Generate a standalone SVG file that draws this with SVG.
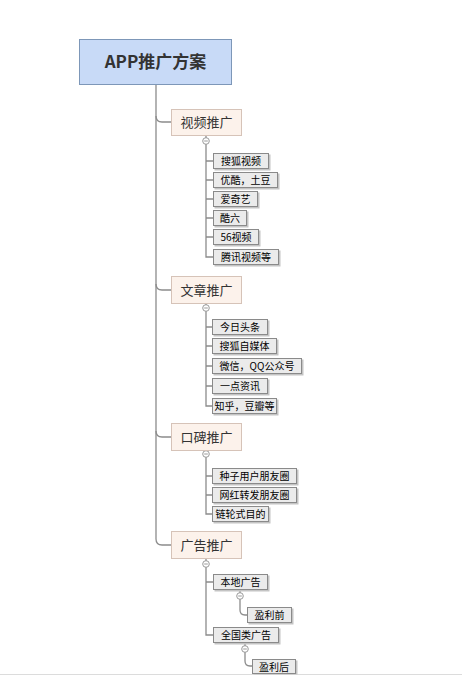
<svg xmlns="http://www.w3.org/2000/svg" width="462" height="676" viewBox="0 0 462 676">
<defs>
<style>
text{font-family:"Noto Sans CJK SC","Liberation Sans",sans-serif;}
.root{fill:#c8daf7;stroke:#7d97b8;stroke-width:1}
.rt{font-size:17px;font-weight:bold;fill:#333;text-anchor:middle}
.main{fill:#fcf2eb;stroke:#d6c3b8;stroke-width:1}
.mt{font-size:13px;fill:#333;text-anchor:middle}
.leaf{fill:#ebebeb;stroke:#8a8a8a;stroke-width:1}
.sh{fill:#c4c4c4}
.lt{font-size:10px;fill:#000;text-anchor:middle}
.ln{fill:none;stroke:#8c8c8c;stroke-width:1.3}
.cc{fill:#fff;stroke:#9a9a9a;stroke-width:1}
.cm{stroke:#9a9a9a;stroke-width:1}
</style>
<g id="coll"><circle class="cc" cx="0" cy="0" r="3.3"/><line class="cm" x1="-1.8" y1="0" x2="1.8" y2="0"/></g>
</defs>
<rect width="462" height="676" fill="#fff"/>
<line x1="0" y1="674.5" x2="462" y2="674.5" stroke="#dcdcdc" stroke-width="1"/>
<g id="connectors">
<path class="ln" d="M156,84 V539 Q156,545 162,545 H171"/>
<path class="ln" d="M156,116 Q156,122 162,122 H171"/>
<path class="ln" d="M156,284 Q156,290 162,290 H171"/>
<path class="ln" d="M156,431 Q156,437 162,437 H171"/>
<path class="ln" d="M206,136 V144.5 M206,144.5 V257 H213 M206,161 H213 M206,180 H213 M206,199 H213 M206,218 H213 M206,237 H213"/>
<path class="ln" d="M206,304 V311.5 M206,311.5 V406 H212 M206,327 H212 M206,346 H212 M206,366 H212 M206,386 H212"/>
<path class="ln" d="M206,451 V457.5 M206,457.5 V514 H212 M206,476 H212 M206,495 H212"/>
<path class="ln" d="M206,559 V567.5 M206,567.5 V635 H213 M206,582 H213"/>
<path class="ln" d="M240,591 V610 Q240,615 245,615 H247"/>
<path class="ln" d="M245,643 V661 Q245,666 250,666 H252"/>
<use href="#coll" x="206" y="141"/>
<use href="#coll" x="206" y="308"/>
<use href="#coll" x="206" y="454"/>
<use href="#coll" x="206" y="564"/>
<use href="#coll" x="240" y="596"/>
<use href="#coll" x="245" y="649"/>
</g>
<g id="root"><rect class="root" x="79.5" y="39.5" width="152" height="45"/><text class="rt" x="155.5" y="68">APP推广方案</text></g>
<g id="n_video"><rect class="main" x="171.5" y="109.5" width="70" height="26"/><text class="mt" x="206.5" y="127">视频推广</text></g>
<g id="n_article"><rect class="main" x="171.5" y="276.5" width="70" height="27"/><text class="mt" x="206.5" y="294.5">文章推广</text></g>
<g id="n_wom"><rect class="main" x="171.5" y="423.5" width="70" height="27"/><text class="mt" x="206.5" y="441.5">口碑推广</text></g>
<g id="n_ad"><rect class="main" x="171.5" y="531.5" width="70" height="27"/><text class="mt" x="206.5" y="549.5">广告推广</text></g>
<g id="v1"><rect class="sh" x="214.5" y="154.5" width="56" height="16"/><rect class="leaf" x="213.5" y="153.5" width="55" height="15"/><text class="lt" x="241" y="164.5">搜狐视频</text></g>
<g id="v2"><rect class="sh" x="214.5" y="173.5" width="65" height="16"/><rect class="leaf" x="213.5" y="172.5" width="64" height="15"/><text class="lt" x="245.5" y="183.5">优酷，土豆</text></g>
<g id="v3"><rect class="sh" x="214.5" y="192.5" width="45" height="16"/><rect class="leaf" x="213.5" y="191.5" width="44" height="15"/><text class="lt" x="235.5" y="202.5">爱奇艺</text></g>
<g id="v4"><rect class="sh" x="214.5" y="211.5" width="34" height="16"/><rect class="leaf" x="213.5" y="210.5" width="33" height="15"/><text class="lt" x="230" y="221.5">酷六</text></g>
<g id="v5"><rect class="sh" x="214.5" y="230.5" width="46" height="16"/><rect class="leaf" x="213.5" y="229.5" width="45" height="15"/><text class="lt" x="236" y="240.5">56视频</text></g>
<g id="v6"><rect class="sh" x="214.5" y="250.5" width="66" height="16"/><rect class="leaf" x="213.5" y="249.5" width="65" height="15"/><text class="lt" x="246" y="260.5">腾讯视频等</text></g>
<g id="a1"><rect class="sh" x="213.5" y="320.5" width="56" height="16"/><rect class="leaf" x="212.5" y="319.5" width="55" height="15"/><text class="lt" x="240" y="330.5">今日头条</text></g>
<g id="a2"><rect class="sh" x="213.5" y="339.5" width="65" height="16"/><rect class="leaf" x="212.5" y="338.5" width="64" height="15"/><text class="lt" x="244.5" y="349.5">搜狐自媒体</text></g>
<g id="a3"><rect class="sh" x="213.5" y="359.5" width="90" height="16"/><rect class="leaf" x="212.5" y="358.5" width="89" height="15"/><text class="lt" x="257" y="369.5">微信，QQ公众号</text></g>
<g id="a4"><rect class="sh" x="213.5" y="379.5" width="56" height="16"/><rect class="leaf" x="212.5" y="378.5" width="55" height="15"/><text class="lt" x="240" y="389.5">一点资讯</text></g>
<g id="a5"><rect class="sh" x="213.5" y="399.5" width="65" height="16"/><rect class="leaf" x="212.5" y="398.5" width="64" height="15"/><text class="lt" x="244.5" y="409.5">知乎，豆瓣等</text></g>
<g id="w1"><rect class="sh" x="213.5" y="469.5" width="85" height="16"/><rect class="leaf" x="212.5" y="468.5" width="84" height="15"/><text class="lt" x="254.5" y="479.5">种子用户朋友圈</text></g>
<g id="w2"><rect class="sh" x="213.5" y="488.5" width="85" height="16"/><rect class="leaf" x="212.5" y="487.5" width="84" height="15"/><text class="lt" x="254.5" y="498.5">网红转发朋友圈</text></g>
<g id="w3"><rect class="sh" x="213.5" y="507.5" width="57" height="16"/><rect class="leaf" x="212.5" y="506.5" width="56" height="15"/><text class="lt" x="240.5" y="517.5">链轮式目的</text></g>
<g id="d1"><rect class="sh" x="214.5" y="575.5" width="55" height="16"/><rect class="leaf" x="213.5" y="574.5" width="54" height="15"/><text class="lt" x="240.5" y="585.5">本地广告</text></g>
<g id="d2"><rect class="sh" x="248.5" y="608.5" width="45" height="16"/><rect class="leaf" x="247.5" y="607.5" width="44" height="15"/><text class="lt" x="269.5" y="618.5">盈利前</text></g>
<g id="d3"><rect class="sh" x="214.5" y="628.5" width="66" height="16"/><rect class="leaf" x="213.5" y="627.5" width="65" height="15"/><text class="lt" x="246" y="638.5">全国类广告</text></g>
<g id="d4"><rect class="sh" x="253.5" y="660.5" width="44" height="14"/><rect class="leaf" x="252.5" y="659.5" width="43" height="14"/><text class="lt" x="274" y="670.5">盈利后</text></g>
</svg>
